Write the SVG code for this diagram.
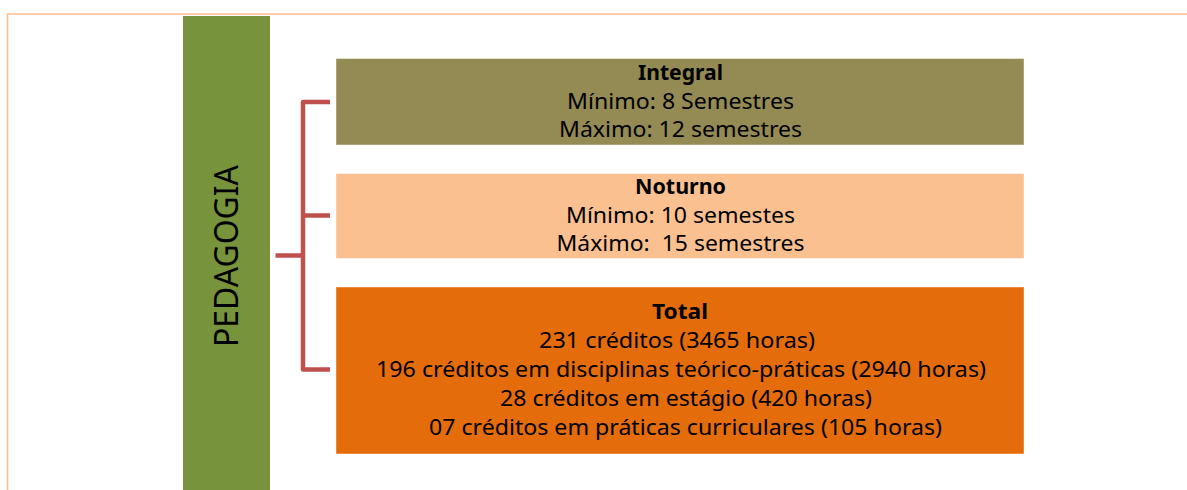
<svg xmlns="http://www.w3.org/2000/svg" width="1187" height="490" viewBox="0 0 1187 490">
<style>
.box{stroke:#ffffff;stroke-opacity:0.45;stroke-width:1}
.t{font-family:"Noto Sans","Open Sans","DejaVu Sans",sans-serif;font-size:21px;fill:#000;text-anchor:middle}
.b{font-weight:bold}
.p{font-size:32px}
.con{fill:none;stroke:#C0504D;stroke-width:4.5;stroke-linejoin:round;stroke-linecap:butt}
</style>
<rect width="1187" height="490" fill="#ffffff"/>
<g id="frame">
<path d="M7.5 490 V14 H1187" fill="none" stroke="#FAC090" stroke-width="1.5"/>
</g>
<g id="pedagogia">
<rect x="183" y="16" width="87" height="474" fill="#77933C"/>
<text class="t p" transform="translate(238 256) rotate(-90)" textLength="182" lengthAdjust="spacingAndGlyphs">PEDAGOGIA</text>
</g>
<g id="connectors">
<path class="con" d="M330 102 H303 V369.5 H330"/>
<path class="con" d="M303 215.5 H330"/>
<path class="con" d="M275.5 255.5 H303"/>
</g>
<g id="integral">
<rect class="box" x="336" y="58.5" width="688" height="86.5" fill="#948A54"/>
<text class="t b" x="680.5" y="79.5" textLength="85" lengthAdjust="spacingAndGlyphs">Integral</text>
<text class="t" x="680.5" y="109" textLength="227" lengthAdjust="spacingAndGlyphs">Mínimo: 8 Semestres</text>
<text class="t" x="680.5" y="137" textLength="243" lengthAdjust="spacingAndGlyphs">Máximo: 12 semestres</text>
</g>
<g id="noturno">
<rect class="box" x="336" y="173.5" width="688" height="85" fill="#FAC090"/>
<text class="t b" x="680.5" y="194" textLength="91" lengthAdjust="spacingAndGlyphs">Noturno</text>
<text class="t" x="680.5" y="223" textLength="229" lengthAdjust="spacingAndGlyphs">Mínimo: 10 semestes</text>
<text class="t" x="680.5" y="251" textLength="248" lengthAdjust="spacingAndGlyphs" xml:space="preserve">Máximo:  15 semestres</text>
</g>
<g id="total">
<rect class="box" x="336" y="287" width="688" height="167" fill="#E46C0A"/>
<text class="t b" x="680" y="318.5" textLength="56" lengthAdjust="spacingAndGlyphs">Total</text>
<text class="t" x="677" y="347.5" textLength="276" lengthAdjust="spacingAndGlyphs">231 créditos (3465 horas)</text>
<text class="t" x="681" y="377" textLength="610" lengthAdjust="spacingAndGlyphs">196 créditos em disciplinas teórico-práticas (2940 horas)</text>
<text class="t" x="686" y="406" textLength="372" lengthAdjust="spacingAndGlyphs">28 créditos em estágio (420 horas)</text>
<text class="t" x="685.5" y="435" textLength="513" lengthAdjust="spacingAndGlyphs">07 créditos em práticas curriculares (105 horas)</text>
</g>
</svg>
